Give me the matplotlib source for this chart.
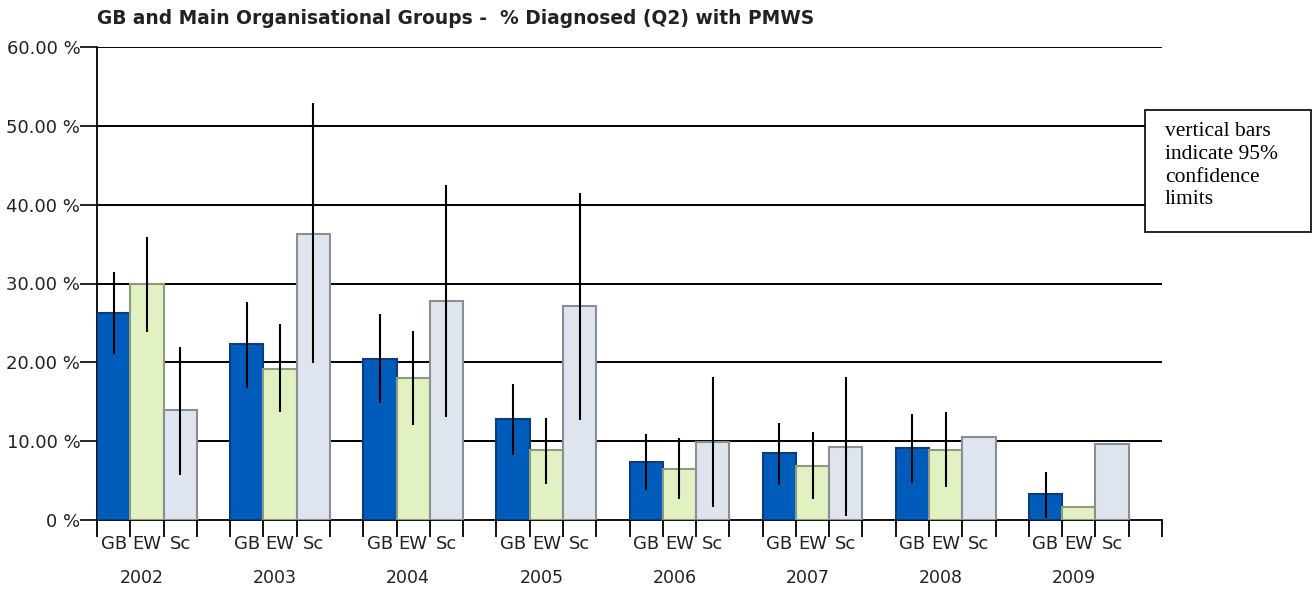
import numpy as np
import matplotlib
matplotlib.use("Agg")
import matplotlib.pyplot as plt
from matplotlib.patches import Rectangle

years = ["2002", "2003", "2004", "2005", "2006", "2007", "2008", "2009"]
groups = ["GB", "EW", "Sc"]
gb = [26.3, 22.3, 20.4, 12.8, 7.4, 8.5, 9.1, 3.3]
ew = [29.9, 19.2, 18.0, 8.9, 6.5, 6.9, 8.9, 1.7]
sc = [13.9, 36.3, 27.8, 27.1, 9.9, 9.3, 10.5, 9.7]
gb_lo = [21.1, 16.8, 14.8, 8.3, 3.8, 4.4, 4.7, 0.3]
gb_hi = [31.4, 27.6, 26.1, 17.2, 10.9, 12.3, 13.5, 6.1]
ew_lo = [23.8, 13.7, 12.1, 4.6, 2.7, 2.7, 4.2, np.nan]
ew_hi = [35.9, 24.8, 24.0, 13.0, 10.4, 11.1, 13.7, np.nan]
sc_lo = [5.7, 19.9, 13.1, 12.7, 1.6, 0.5, np.nan, np.nan]
sc_hi = [22.0, 52.9, 42.5, 41.5, 18.1, 18.1, np.nan, np.nan]
yticks = [0, 10, 20, 30, 40, 50, 60]
ytick_labels = ["0 %", "10.00 %", "20.00 %", "30.00 %", "40.00 %", "50.00 %", "60.00 %"]

fills = ["#005cba", "#e2f1c2", "#dfe5ee"]
edges = ["#0a3d7a", "#8f9a80", "#8a8f96"]

fig = plt.figure(figsize=(13.13, 5.92), dpi=100)
ax = fig.add_axes([97/1313, 1-520/592, (1162-97)/1313, (520-47)/592])

series = [gb, ew, sc]
los = [gb_lo, ew_lo, sc_lo]
his = [gb_hi, ew_hi, sc_hi]
n = len(years)
for k in range(3):
    xs = np.arange(n) * 4 + k + 0.5
    ax.bar(xs, series[k], width=1.0, color=fills[k], edgecolor=edges[k],
           linewidth=1.5, zorder=3)
    lo = np.array(los[k]); hi = np.array(his[k])
    m = ~np.isnan(lo)
    ax.vlines(xs[m], lo[m], hi[m], color="black", linewidth=1.5, zorder=4)

for y in yticks[1:]:
    ax.axhline(y, color="black", linewidth=1.4, zorder=1)

ax.set_xlim(0, 4 * n)
ax.set_ylim(0, 60)
ax.set_yticks(yticks)
ax.set_yticklabels(ytick_labels, fontsize=13, color="#222222")
ax.tick_params(axis="y", length=12, width=1.2, pad=0)

# bar-level labels
centers = [g * 4 + k + 0.5 for g in range(n) for k in range(3)]
ax.set_xticks(centers)
ax.set_xticklabels(groups * n, fontsize=13, color="#222222")
ax.tick_params(axis="x", which="major", length=0, pad=11)
ax.set_xticks(np.arange(0, 4 * n + 1), minor=True)
ax.tick_params(axis="x", which="minor", length=12, width=1.3, direction="out")

for g, yr in enumerate(years):
    ax.text(g * 4 + 1.35, -7.4, yr, ha="center", va="center", fontsize=12.5,
            color="#222222", clip_on=False)

for s in ["top", "right"]:
    ax.spines[s].set_visible(False)
ax.spines["left"].set_linewidth(1.3)
ax.spines["bottom"].set_linewidth(1.3)

fig.text(97/1313, 1-18/592, "GB and Main Organisational Groups -  % Diagnosed (Q2) with PMWS",
         fontsize=13.4, fontweight="bold", ha="left", va="center", color="#222222")

# annotation box
bx0, bx1, by0, by1 = 1145, 1311, 110, 232
fig.patches.append(Rectangle((bx0/1313, 1-by1/592), (bx1-bx0)/1313, (by1-by0)/592,
                             transform=fig.transFigure, fill=True, facecolor="white",
                             edgecolor="black", linewidth=1.2, zorder=5))
fig.text(1165/1313, 1-122/592, "vertical bars\nindicate 95%\nconfidence\nlimits",
         fontsize=15.5, family="Liberation Serif", ha="left", va="top",
         linespacing=1.27, zorder=6)

fig.savefig("out.png", dpi=100)
